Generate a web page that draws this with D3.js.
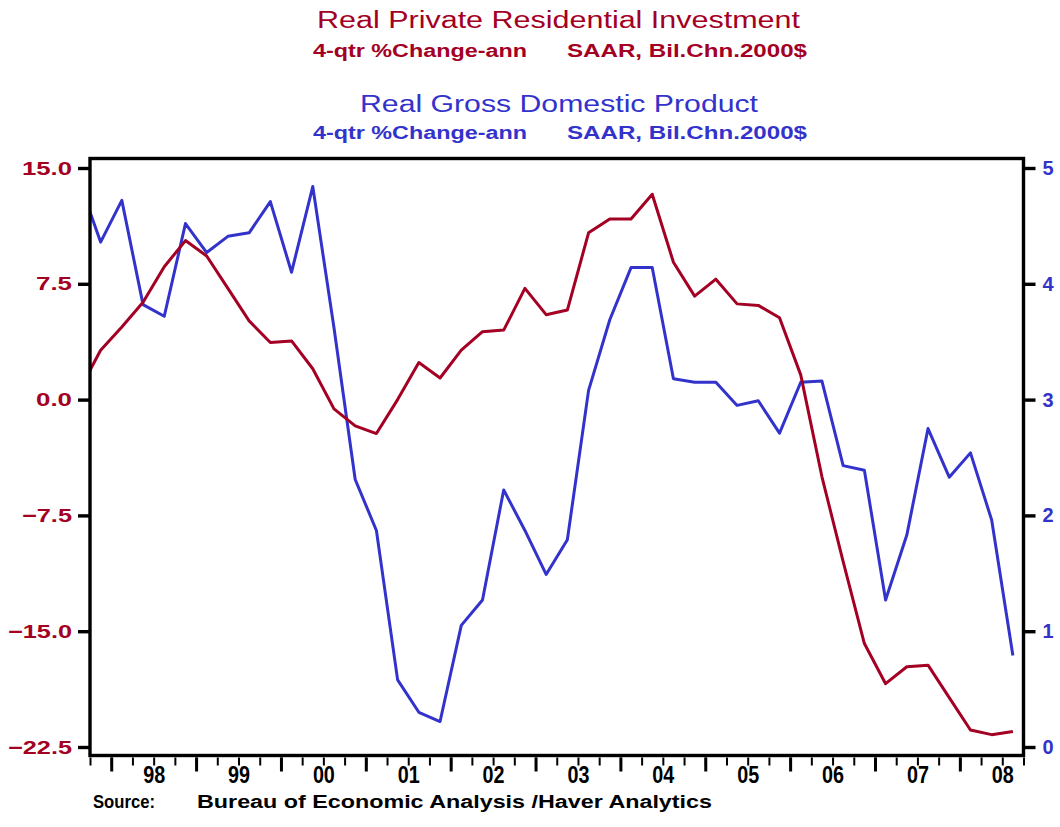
<!DOCTYPE html>
<html>
<head>
<meta charset="utf-8">
<script src="https://cdn.jsdelivr.net/npm/d3@7"></script>
<style>
  body { margin: 0; background: #fff; }
  svg { display: block; font-family: 'Liberation Sans', Arial, sans-serif; }
</style>
</head>
<body>
<svg id="chart"></svg>
<script>
// quarterly observations, 1997Q3 .. 2008Q3 (first one sits left of the frame)
const quarters = [
  '1997Q3', '1997Q4',
  '1998Q1', '1998Q2', '1998Q3', '1998Q4',
  '1999Q1', '1999Q2', '1999Q3', '1999Q4',
  '2000Q1', '2000Q2', '2000Q3', '2000Q4',
  '2001Q1', '2001Q2', '2001Q3', '2001Q4',
  '2002Q1', '2002Q2', '2002Q3', '2002Q4',
  '2003Q1', '2003Q2', '2003Q3', '2003Q4',
  '2004Q1', '2004Q2', '2004Q3', '2004Q4',
  '2005Q1', '2005Q2', '2005Q3', '2005Q4',
  '2006Q1', '2006Q2', '2006Q3', '2006Q4',
  '2007Q1', '2007Q2', '2007Q3', '2007Q4',
  '2008Q1', '2008Q2', '2008Q3',
];

// Real private residential investment, 4-qtr % change (left axis)
const residential = [
  0.6, 3.2,
  4.7, 6.3, 8.6, 10.3,
  9.3, 7.2, 5.1, 3.7,
  3.8, 2.0, -0.6, -1.7,
  -2.2, 0.0, 2.4, 1.4,
  3.2, 4.4, 4.5, 7.2,
  5.5, 5.8, 10.8, 11.7,
  11.7, 13.3, 8.9, 6.7,
  7.8, 6.2, 6.1, 5.3,
  1.6, -5.0, -10.5, -15.8,
  -18.4, -17.3, -17.2, -19.3,
  -21.4, -21.7, -21.5,
];

// Real GDP, 4-qtr % change (right axis)
const gdp = [
  4.88, 4.36,
  4.72, 3.82, 3.72, 4.52,
  4.27, 4.41, 4.44, 4.71,
  4.10, 4.84, 3.62, 2.31,
  1.87, 0.58, 0.30, 0.22,
  1.05, 1.27, 2.22, 1.87,
  1.49, 1.79, 3.08, 3.69,
  4.14, 4.14, 3.18, 3.15,
  3.15, 2.95, 2.99, 2.71,
  3.15, 3.16, 2.43, 2.39,
  1.27, 1.83, 2.75, 2.33,
  2.54, 1.96, 0.79,
];

const leftTicks = [15, 7.5, 0, -7.5, -15, -22.5];
const rightTicks = [5, 4, 3, 2, 1, 0];
const years = [1998, 1999, 2000, 2001, 2002, 2003, 2004, 2005, 2006, 2007, 2008];

const RED = '#a30024';
const BLUE = '#3333cc';

const width = 1060;
const height = 827;
const frame = { left: 90, right: 1023.5, top: 158.5, bottom: 755.5 };

const svg = d3.select('#chart')
  .attr('width', width)
  .attr('height', height);

// "1998Q3" -> 1998.625 (middle of the quarter)
const quarterMid = q => +q.slice(0, 4) + (+q.slice(5) - 1) * 0.25 + 0.125;

const x = d3.scaleLinear()
  .domain([1997.75, 2008.75])
  .range([frame.left, frame.right]);
const yLeft = d3.scaleLinear()
  .domain([-22.5, 15])
  .range([747, 168]);
const yRight = d3.scaleLinear()
  .domain([0, 5])
  .range([747, 168]);

// Titles
const titles = [
  { text: 'Real Private Residential Investment', x: 317, y: 28, len: 483, size: 23, weight: 'normal', color: RED },
  { text: '4-qtr %Change-ann', x: 313, y: 57, len: 214, size: 18, weight: 'bold', color: RED },
  { text: 'SAAR, Bil.Chn.2000$', x: 567, y: 57, len: 240, size: 18, weight: 'bold', color: RED },
  { text: 'Real Gross Domestic Product', x: 360, y: 112, len: 398, size: 23, weight: 'normal', color: BLUE },
  { text: '4-qtr %Change-ann', x: 313, y: 139, len: 214, size: 18, weight: 'bold', color: BLUE },
  { text: 'SAAR, Bil.Chn.2000$', x: 567, y: 139, len: 240, size: 18, weight: 'bold', color: BLUE },
];

svg.selectAll('.title')
  .data(titles)
  .enter().append('text')
    .attr('class', 'title')
    .attr('x', d => d.x)
    .attr('y', d => d.y)
    .attr('textLength', d => d.len)
    .attr('lengthAdjust', 'spacingAndGlyphs')
    .attr('font-size', d => d.size)
    .attr('font-weight', d => d.weight)
    .attr('fill', d => d.color)
    .text(d => d.text);

// Lines, clipped to the frame
svg.append('clipPath')
  .attr('id', 'plot-clip')
  .append('rect')
    .attr('x', frame.left)
    .attr('y', frame.top)
    .attr('width', frame.right - frame.left)
    .attr('height', frame.bottom - frame.top);

const lineLeft = d3.line()
  .x((d, i) => x(quarterMid(quarters[i])))
  .y(d => yLeft(d));
const lineRight = d3.line()
  .x((d, i) => x(quarterMid(quarters[i])))
  .y(d => yRight(d));

const lines = svg.append('g').attr('clip-path', 'url(#plot-clip)');

lines.append('path')
  .datum(gdp)
  .attr('fill', 'none')
  .attr('stroke', BLUE)
  .attr('stroke-width', 3)
  .attr('stroke-linejoin', 'round')
  .attr('d', lineRight);

lines.append('path')
  .datum(residential)
  .attr('fill', 'none')
  .attr('stroke', RED)
  .attr('stroke-width', 3)
  .attr('stroke-linejoin', 'round')
  .attr('d', lineLeft);

// Frame
svg.append('rect')
  .attr('x', frame.left)
  .attr('y', frame.top)
  .attr('width', frame.right - frame.left)
  .attr('height', frame.bottom - frame.top)
  .attr('fill', 'none')
  .attr('stroke', '#000')
  .attr('stroke-width', 3.4);

// Left axis
const charWidth = { '.': 8, '-': 9 };
const labelLength = s => s.split('').reduce((sum, c) => sum + (charWidth[c] || 14), 0);

const leftAxis = svg.append('g')
  .attr('transform', `translate(${frame.left}, 0)`)
  .call(d3.axisLeft(yLeft)
    .tickValues(leftTicks)
    .tickSize(12)
    .tickPadding(6)
    .tickFormat(d3.format('.1f')));
leftAxis.select('.domain').remove();
leftAxis.selectAll('line').attr('stroke-width', 3.4);
leftAxis.selectAll('text')
  .attr('fill', RED)
  .attr('font-size', 19)
  .attr('font-weight', 'bold')
  .attr('font-family', "'Liberation Sans', Arial, sans-serif")
  .attr('textLength', function () { return labelLength(this.textContent); })
  .attr('lengthAdjust', 'spacingAndGlyphs');

// Right axis
const rightAxis = svg.append('g')
  .attr('transform', `translate(${frame.right}, 0)`)
  .call(d3.axisRight(yRight)
    .tickValues(rightTicks)
    .tickSize(12)
    .tickPadding(7)
    .tickFormat(d3.format('d')));
rightAxis.select('.domain').remove();
rightAxis.selectAll('line').attr('stroke-width', 3.4);
rightAxis.selectAll('text')
  .attr('fill', BLUE)
  .attr('font-size', 20)
  .attr('font-weight', 'bold')
  .attr('font-family', "'Liberation Sans', Arial, sans-serif");

// Bottom axis: quarter ticks, year ticks, year labels
const quarterTicks = d3.range(1997.75, 2008.76, 0.25);

const qAxis = svg.append('g')
  .attr('transform', `translate(0, ${frame.bottom + 2})`)
  .call(d3.axisBottom(x)
    .tickValues(quarterTicks)
    .tickSize(8)
    .tickFormat(''));
qAxis.select('.domain').remove();
qAxis.selectAll('line').attr('stroke-width', 2);

const yAxis = svg.append('g')
  .attr('transform', `translate(0, ${frame.bottom + 2})`)
  .call(d3.axisBottom(x)
    .tickValues(years)
    .tickSize(14)
    .tickFormat(''));
yAxis.select('.domain').remove();
yAxis.selectAll('line').attr('stroke-width', 3);

const labelAxis = svg.append('g')
  .attr('transform', `translate(0, ${frame.bottom + 2})`)
  .call(d3.axisBottom(x)
    .tickValues(years.map(d => d + 0.5))
    .tickSize(0)
    .tickFormat(d => String(Math.floor(d)).slice(2)));
labelAxis.select('.domain').remove();
labelAxis.selectAll('text')
  .attr('y', 25)
  .attr('dy', null)
  .attr('fill', '#000')
  .attr('font-size', 23)
  .attr('font-weight', 'bold')
  .attr('font-family', "'Liberation Sans', Arial, sans-serif")
  .attr('textLength', 22)
  .attr('lengthAdjust', 'spacingAndGlyphs');

// Source note
svg.append('text')
  .attr('x', 93)
  .attr('y', 808)
  .attr('font-size', 18)
  .attr('font-weight', 'bold')
  .attr('textLength', 62)
  .attr('lengthAdjust', 'spacingAndGlyphs')
  .text('Source:');

svg.append('text')
  .attr('x', 197)
  .attr('y', 808)
  .attr('font-size', 18)
  .attr('font-weight', 'bold')
  .attr('textLength', 515)
  .attr('lengthAdjust', 'spacingAndGlyphs')
  .text('Bureau of Economic Analysis /Haver Analytics');
</script>
</body>
</html>
